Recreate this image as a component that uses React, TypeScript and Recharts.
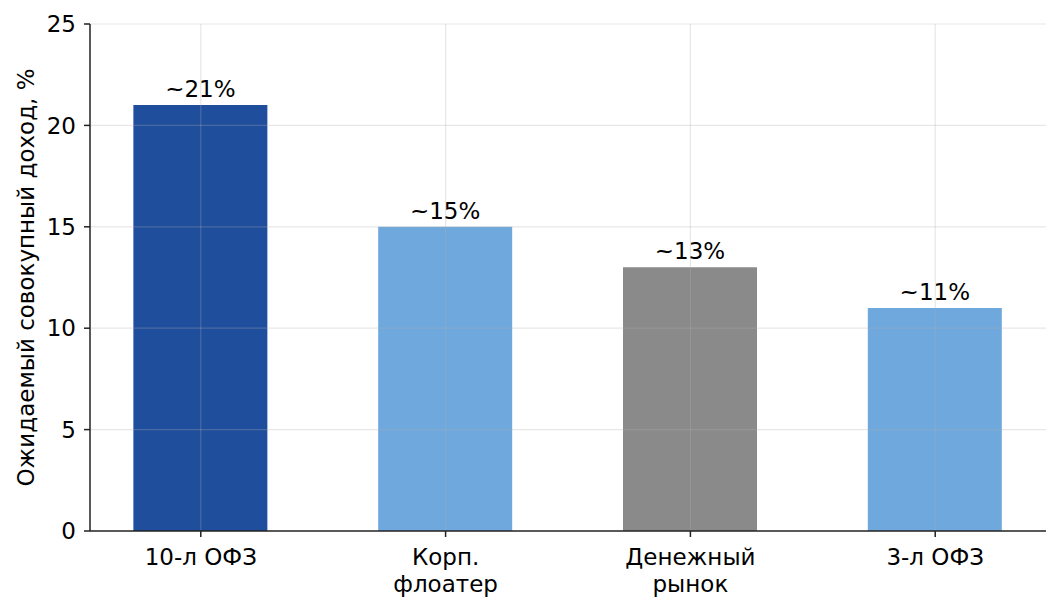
import { BarChart, Bar, XAxis, YAxis, Cell, LabelList, ReferenceLine } from 'recharts';

const categories = ['10-л ОФЗ', 'Корп.\nфлоатер', 'Денежный\nрынок', '3-л ОФЗ'];
const returns = [21, 15, 13, 11];
const valueLabels = ['~21%', '~15%', '~13%', '~11%'];
const barColors = ['#1f4e9c', '#6fa8dc', '#8a8a8a', '#6fa8dc'];
const yTicks = [0, 5, 10, 15, 20, 25];
const xTicks = [0, 1, 2, 3];

const data = categories.map((name, i) => ({
  pos: i,
  name,
  value: returns[i],
  label: valueLabels[i],
}));

const FONT = 'DejaVu Sans, sans-serif';
const FS = 23;
const X_DOMAIN: [number, number] = [-0.4525, 3.4525];
const GRID = { stroke: '#b0b0b0', strokeOpacity: 0.3, strokeWidth: 1.2 };

function XTick(props: any) {
  const { x, y, payload } = props;
  const lines = String(categories[payload.value] ?? '').split('\n');
  return (
    <text x={x} y={y} textAnchor="middle" fill="#000" fontSize={FS} fontFamily={FONT}>
      {lines.map((l, i) => (
        <tspan key={i} x={x} dy={i === 0 ? 26 : 27}>
          {l}
        </tspan>
      ))}
    </text>
  );
}

export default function App() {
  return (
    <div style={{ position: 'absolute', left: 0, top: 0, width: 1060, height: 610, background: '#fff' }}>
      <BarChart
        width={1060}
        height={610}
        data={data}
        margin={{ top: 24, right: 14, left: 0, bottom: 0 }}
      >
        <XAxis
          dataKey="pos"
          type="number"
          domain={X_DOMAIN}
          ticks={xTicks}
          interval={0}
          height={79}
          tick={<XTick />}
          tickLine={{ stroke: '#222', strokeWidth: 1.5 }}
          tickSize={6}
          axisLine={{ stroke: '#222', strokeWidth: 1.5 }}
          allowDataOverflow
        />
        <YAxis
          type="number"
          domain={[0, 25]}
          ticks={yTicks}
          width={90}
          tick={{ fill: '#000', fontSize: FS, fontFamily: FONT, dx: -6 }}
          tickLine={{ stroke: '#222', strokeWidth: 1.5 }}
          tickSize={6}
          axisLine={{ stroke: '#222', strokeWidth: 1.5 }}
          label={{
            value: 'Ожидаемый совокупный доход, %',
            angle: -90,
            position: 'insideLeft',
            dx: 21,
            style: { textAnchor: 'middle', fill: '#000', fontSize: FS, fontFamily: FONT },
          }}
        />
        <Bar dataKey="value" barSize={134} isAnimationActive={false}>
          {data.map((d, i) => (
            <Cell key={d.name} fill={barColors[i]} />
          ))}
          <LabelList
            dataKey="label"
            position="top"
            offset={8}
            style={{ fill: '#000', fontSize: FS, fontFamily: FONT }}
          />
        </Bar>
        {/* grid as reference lines so it sits on top of the bars */}
        {yTicks.filter((v) => v > 0).map((v) => (
          <ReferenceLine key={`h${v}`} y={v} {...GRID} />
        ))}
        {xTicks.map((v) => (
          <ReferenceLine key={`v${v}`} x={v} {...GRID} />
        ))}
      </BarChart>
    </div>
  );
}
